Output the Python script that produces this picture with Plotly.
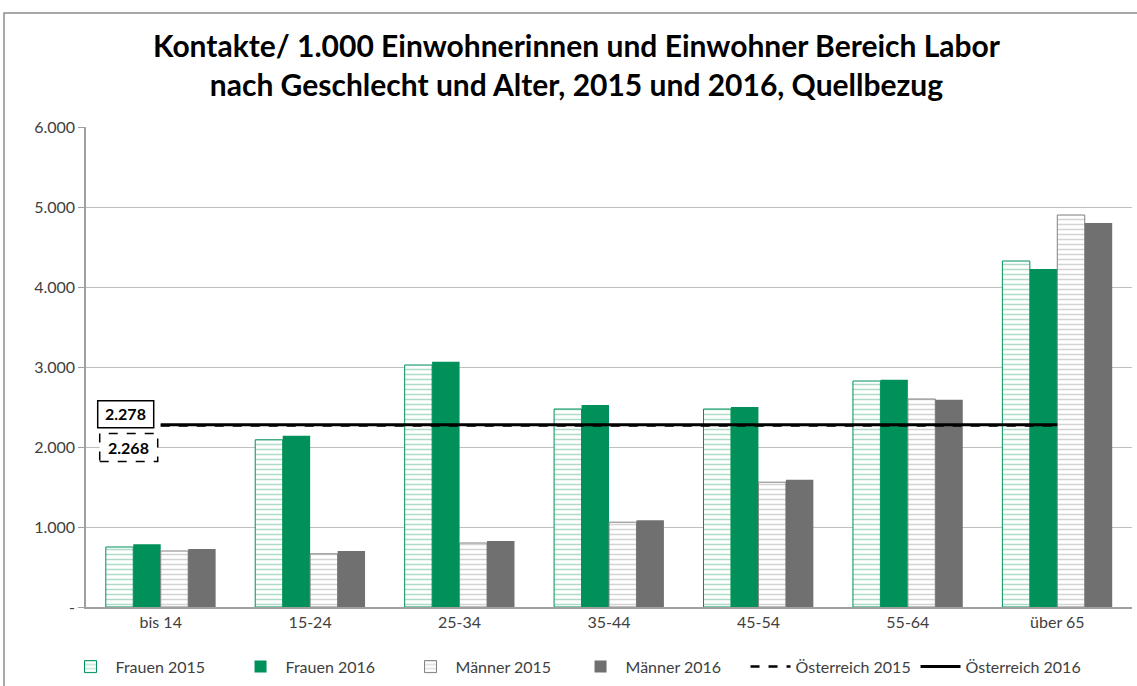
import plotly.graph_objects as go

categories = ["bis 14", "15-24", "25-34", "35-44", "45-54", "55-64", "über 65"]
frauen_2015 = [750, 2090, 3025, 2475, 2475, 2825, 4325]
frauen_2016 = [785, 2140, 3065, 2525, 2500, 2840, 4225]
maenner_2015 = [700, 665, 800, 1060, 1560, 2600, 4900]
maenner_2016 = [725, 700, 825, 1085, 1590, 2590, 4800]
oesterreich_2015 = [2268, 2268, 2268, 2268, 2268, 2268, 2268]
oesterreich_2016 = [2278, 2278, 2278, 2278, 2278, 2278, 2278]

y_tickvals = [0, 1000, 2000, 3000, 4000, 5000, 6000]
y_ticktext = ["-", "1.000", "2.000", "3.000", "4.000", "5.000", "6.000"]

GREEN = "#00915A"
GREY = "#707070"
FONT = "Lato"

fig = go.Figure()
fig.add_trace(go.Bar(
    name="Frauen 2015", x=categories, y=frauen_2015,
    marker=dict(color="white", line=dict(color=GREEN, width=1),
                pattern=dict(shape="-", fgcolor="#5db98f", bgcolor="white", size=5, solidity=0.3)),
))
fig.add_trace(go.Bar(
    name="Frauen 2016", x=categories, y=frauen_2016,
    marker=dict(color=GREEN, line=dict(width=0)),
))
fig.add_trace(go.Bar(
    name="Männer 2015", x=categories, y=maenner_2015,
    marker=dict(color="white", line=dict(color="#808080", width=1),
                pattern=dict(shape="-", fgcolor="#a8a8a8", bgcolor="white", size=5, solidity=0.3)),
))
fig.add_trace(go.Bar(
    name="Männer 2016", x=categories, y=maenner_2016,
    marker=dict(color=GREY, line=dict(width=0)),
))
fig.add_trace(go.Scatter(
    name="Österreich 2015", x=categories, y=oesterreich_2015, mode="lines",
    line=dict(color="black", width=2.5, dash="dash"),
))
fig.add_trace(go.Scatter(
    name="Österreich 2016", x=categories, y=oesterreich_2016, mode="lines",
    line=dict(color="black", width=3),
))

# value label boxes at first category
fig.add_shape(type="rect", xref="x", yref="y", xsizemode="pixel", ysizemode="pixel",
              xanchor=categories[0], yanchor=oesterreich_2016[0],
              x0=-63, x1=-7, y0=-3, y1=24, line=dict(color="black", width=1.5),
              fillcolor="white", layer="above")
fig.add_shape(type="rect", xref="x", yref="y", xsizemode="pixel", ysizemode="pixel",
              xanchor=categories[0], yanchor=oesterreich_2015[0],
              x0=-61, x1=-3, y0=-36, y1=-8, line=dict(color="black", width=1.5, dash="dash"),
              fillcolor="white", layer="above")
fig.add_annotation(x=categories[0], y=oesterreich_2016[0], xref="x", yref="y",
                   text="<b>2.278</b>", showarrow=False, xshift=-35, yshift=11,
                   font=dict(family=FONT, size=16, color="black"))
fig.add_annotation(x=categories[0], y=oesterreich_2015[0], xref="x", yref="y",
                   text="<b>2.268</b>", showarrow=False, xshift=-32, yshift=-22,
                   font=dict(family=FONT, size=16, color="black"))

# outer chart border
fig.add_shape(type="rect", xref="paper", yref="paper", x0=-0.0784, x1=1.2, y0=-0.5, y1=1.2375,
              line=dict(color="#8c8c8c", width=1.5), layer="below")

fig.update_layout(
    width=1137, height=686,
    margin=dict(l=86, r=5, t=127, b=79, autoexpand=False),
    paper_bgcolor="white", plot_bgcolor="white",
    barmode="group", bargap=0.265, bargroupgap=0,
    title=dict(text="<b>Kontakte/ 1.000 Einwohnerinnen und Einwohner Bereich Labor<br>nach Geschlecht und Alter, 2015 und 2016, Quellbezug</b>",
               x=0.507, xref="container", xanchor="center", y=0.917, yanchor="top",
               font=dict(family=FONT, size=30, color="black")),
    font=dict(family=FONT, size=16, color="#404040"),
    showlegend=True,
    legend=dict(orientation="h", x=0.468, xanchor="center", y=-0.089, yanchor="top",
                font=dict(family=FONT, size=16, color="#404040"), traceorder="normal",
                itemwidth=40, entrywidth=115, entrywidthmode="pixels"),
)
fig.update_xaxes(showline=True, linecolor="#a0a0a0", linewidth=1.5, showgrid=False, automargin=False,
                 ticks="", tickfont=dict(family=FONT, size=16, color="#404040"))
fig.update_yaxes(range=[0, 6000], tickvals=y_tickvals, ticktext=y_ticktext, automargin=False,
                 showline=True, linecolor="#a0a0a0", linewidth=1.5,
                 showgrid=True, gridcolor="#bfbfbf", gridwidth=1.2,
                 ticks="outside", ticklen=6, tickcolor="#a0a0a0",
                 tickfont=dict(family=FONT, size=16, color="#404040"), zeroline=False)

fig.write_html("out.html", config={"displayModeBar": False},
               post_script="document.body.style.margin='0';document.body.style.overflow='hidden';")
